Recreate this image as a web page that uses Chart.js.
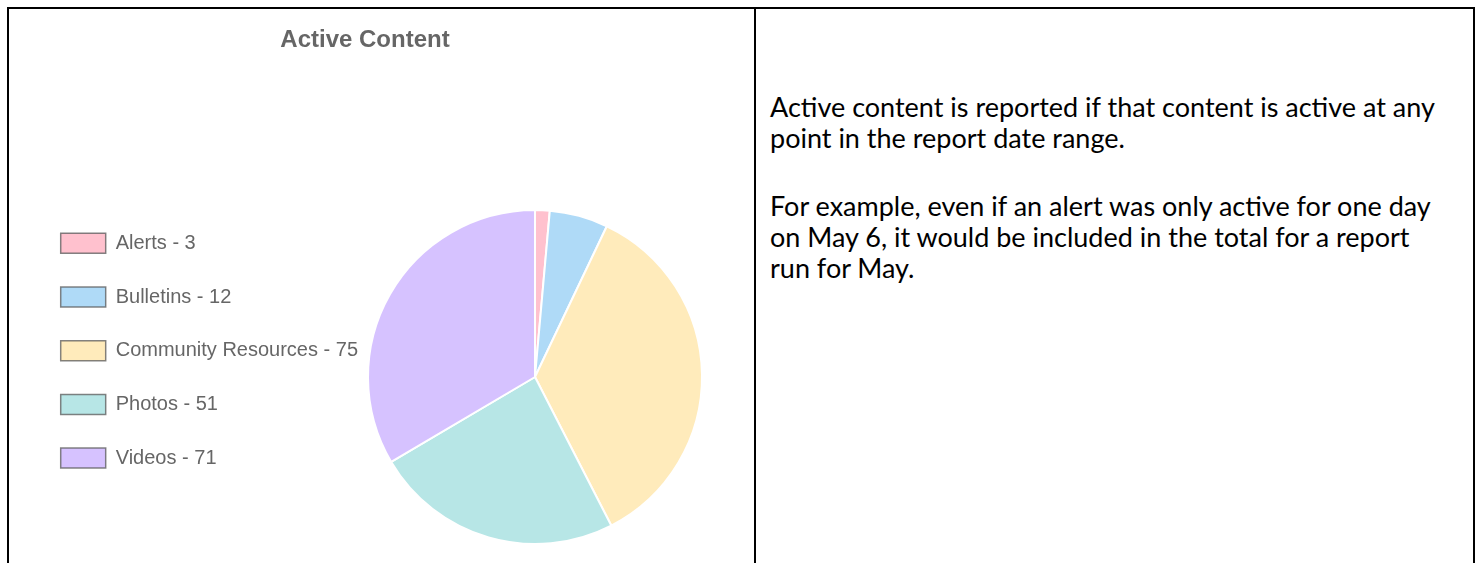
<!DOCTYPE html>
<html lang="en">
<head>
  <meta charset="UTF-8">
  <meta name="viewport" content="width=device-width, initial-scale=1.0">
  <title>Active Content</title>
  <script src="https://cdn.jsdelivr.net/npm/chart.js"></script>
  <style>
    html, body { margin: 0; padding: 0; background: #fff; overflow: hidden; }
    .frame {
      position: absolute; left: 7px; top: 7px; width: 1468px; height: 600px;
      border: 2px solid #000; border-bottom: none; box-sizing: border-box;
    }
    .divider { position: absolute; left: 754px; top: 7px; width: 2px; height: 600px; background: #000; }
    #chart-box { position: absolute; left: 9px; top: 9px; width: 745px; height: 554px; }
    .note {
      position: absolute; left: 770px; top: 91px; white-space: nowrap;
      font-family: Lato, "Open Sans", sans-serif; font-size: 27px; line-height: 31.3px; color: #000;
    }
    .note p { margin: 0 0 36px 0; }
  </style>
</head>
<body>
  <div class="frame"></div>
  <div class="divider"></div>
  <div id="chart-box"><canvas id="contentChart"></canvas></div>
  <div class="note">
    <p>Active content is reported if that content is active at any<br>point in the report date range.</p>
    <p>For example, even if an alert was only active for one day<br>on May 6, it would be included in the total for a report<br>run for May.</p>
  </div>

  <script>
    const categories = ['Alerts', 'Bulletins', 'Community Resources', 'Photos', 'Videos'];
    const counts = [3, 12, 75, 51, 71];
    const sliceColors = ['#FFC1CE', '#AFDAF7', '#FFEBBB', '#B7E6E6', '#D6C2FF'];

    Chart.defaults.font.family = '"Liberation Sans", Arial, sans-serif';
    Chart.defaults.color = '#666';

    const ctx = document.getElementById('contentChart').getContext('2d');
    new Chart(ctx, {
      type: 'pie',
      data: {
        labels: categories,
        datasets: [{
          data: counts,
          backgroundColor: sliceColors,
          borderColor: '#fff',
          borderWidth: 2
        }]
      },
      options: {
        responsive: true,
        maintainAspectRatio: false,
        animation: false,
        layout: { padding: { left: 18, right: 51, top: 0, bottom: 8.6 } },
        plugins: {
          title: {
            display: true,
            text: 'Active Content',
            color: '#666',
            font: { size: 24, weight: 'bold' },
            padding: { top: 17, bottom: 144.8 }
          },
          legend: {
            position: 'left',
            align: 'start',
            fullSize: false,
            maxWidth: 340,
            labels: {
              font: { size: 20 },
              color: '#666',
              boxWidth: 45,
              padding: 33.7,
              // "Name - count" labels with a grey outline round each swatch
              generateLabels: chart => {
                const items = Chart.overrides.pie.plugins.legend.labels.generateLabels(chart);
                return items.map((item, i) => ({
                  ...item,
                  text: `${categories[i]} - ${counts[i]}`,
                  strokeStyle: 'rgba(90, 90, 90, 0.75)',
                  lineWidth: 1.5
                }));
              }
            }
          },
          tooltip: { enabled: false }
        }
      }
    });
  </script>
</body>
</html>
